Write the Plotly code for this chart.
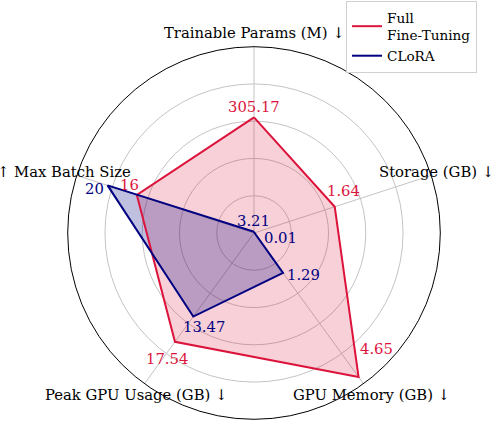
import math
import plotly.graph_objects as go

# ---- data ----
axes_labels = ["Trainable Params (M) ↓", "Storage (GB) ↓", "GPU Memory (GB) ↓",
               "Peak GPU Usage (GB) ↓", "↑ Max Batch Size"]
full_ft = [305.17, 1.64, 4.65, 17.54, 16]
clora = [3.21, 0.01, 1.29, 13.47, 20]
# raw value that reaches the outer ring on each axis (normalisation used by the chart)
axis_full_scale = [492.0, 3.6, 4.87, 24.3, 24.2]
series_names = ["Full<br>Fine-Tuning", "CLoRA"]

RED = "#DC143C"
NAVY = "#000080"
FONT = "DejaVu Serif"
FS = 14.8
W, H = 498, 422

def norm(vals):
    return [v / s for v, s in zip(vals, axis_full_scale)]

theta = axes_labels
fig = go.Figure()

series = [(full_ft, series_names[0], RED, "rgba(220,20,60,0.2)"),
          (clora, series_names[1], NAVY, "rgba(0,0,128,0.25)")]
# filled areas (no legend)
for vals, name, col, fill in series:
    r = norm(vals)
    fig.add_trace(go.Scatterpolar(
        r=r + [r[0]], theta=theta + [theta[0]], mode="lines",
        line=dict(color=col, width=0), fill="toself", fillcolor=fill,
        showlegend=False, hoverinfo="skip"))
# outlines (legend)
for vals, name, col, fill in series:
    r = norm(vals)
    fig.add_trace(go.Scatterpolar(
        r=r + [r[0]], theta=theta + [theta[0]], mode="lines",
        line=dict(color=col, width=2), name=name, hoverinfo="skip"))

# ---- polar geometry (pixels) ----
CX, CY, R = 254.0, 233.0, 186.3
dom_x = [(CX - R) / W, (CX + R) / W]
dom_y = [1 - (CY + R) / H, 1 - (CY - R) / H]
angles = [90 - 72 * i for i in range(len(theta))]

def to_paper(rn, ang, dx=0.0, dy=0.0):
    px = CX + rn * R * math.cos(math.radians(ang)) + dx
    py = CY - rn * R * math.sin(math.radians(ang)) + dy
    return px / W, 1 - py / H

annotations = []
# value labels: pixel offsets from the vertex (style)
ft_off = [(0, -11), (9, -16), (18, -28), (-8, 17), (-7, -10)]
cl_off = [(-1, -11), (26, 5), (20, 2), (11, 10), (-13, 3)]
for vals, col, offs in [(full_ft, RED, ft_off), (clora, NAVY, cl_off)]:
    for v, rn, ang, (dx, dy) in zip(vals, norm(vals), angles, offs):
        x, y = to_paper(rn, ang, dx, dy)
        annotations.append(dict(x=x, y=y, xref="paper", yref="paper", text=f"{v:g}",
                                showarrow=False, xanchor="center", yanchor="middle",
                                font=dict(family=FONT, size=FS, color=col)))
# axis labels just outside the outer ring
for lab, ang in zip(axes_labels, angles):
    x, y = to_paper(200 / R, ang)
    xa = "center"
    if abs(ang - 18) < 1:
        x, xa = 496 / W, "right"
    if abs(ang - 162) < 1:
        x, y, xa = 2 / W, y + 4 / H, "left"
    annotations.append(dict(x=x, y=y, xref="paper", yref="paper", text=lab,
                            showarrow=False, xanchor=xa, yanchor="middle",
                            font=dict(family=FONT, size=FS, color="black")))

fig.update_layout(
    width=W, height=H,
    margin=dict(l=0, r=0, t=0, b=0),
    paper_bgcolor="white",
    font=dict(family=FONT, size=FS, color="black"),
    polar=dict(
        domain=dict(x=dom_x, y=dom_y),
        bgcolor="white",
        angularaxis=dict(direction="clockwise", rotation=90, showticklabels=False,
                         ticks="", linecolor="black", linewidth=1,
                         gridcolor="#c4c4c4", gridwidth=1),
        radialaxis=dict(range=[0, 1], tickvals=[0.2, 0.4, 0.6, 0.8], showticklabels=False,
                        ticks="", showline=False, gridcolor="#c4c4c4", gridwidth=1),
    ),
    legend=dict(x=346 / W, y=1 - 1 / H, xanchor="left", yanchor="top",
                bgcolor="white", bordercolor="#d0d0d0", borderwidth=1,
                font=dict(family=FONT, size=13.6), itemwidth=30),
    annotations=annotations,
    showlegend=True,
)

fig.write_html("out.html", config={"displayModeBar": False},
               post_script="document.body.style.margin='0';")
